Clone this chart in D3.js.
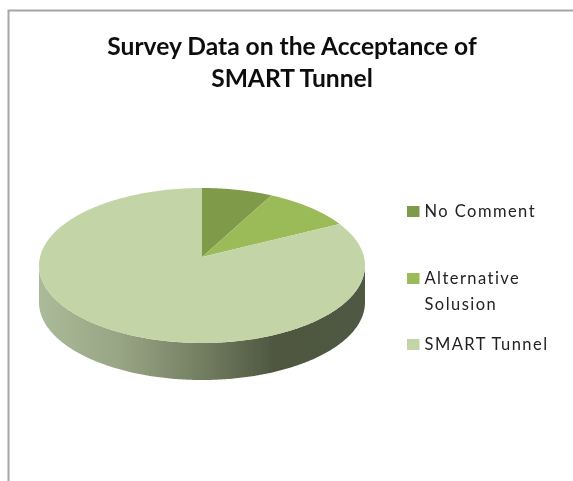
<!DOCTYPE html>
<html>
<head>
<meta charset="utf-8">
<script src="https://cdn.jsdelivr.net/npm/d3@7"></script>
<style>
  html, body { margin: 0; padding: 0; background: #fff; }
  svg { display: block; }
</style>
</head>
<body>
<div id="chart"></div>
<script>
// valores (%)
const categories = ['No Comment', 'Alternative Solusion', 'SMART Tunnel'];
const values = [7, 9, 84];
const colors = ['#7f9a4a', '#9bbb59', '#c3d5a6'];
const legendLines = [['No Comment'], ['Alternative', 'Solusion'], ['SMART Tunnel']];
const titleLines = ['Survey Data on the Acceptance of', 'SMART Tunnel'];

const width = 573, height = 481;
const cx = 202, cy = 265.5, rx = 163, ry = 77.5, depth = 37;
const apex = [202, 257]; // la perspectiva corre el vertice hacia arriba

const svg = d3.select('#chart').append('svg')
  .attr('width', width)
  .attr('height', height);

const defs = svg.append('defs');
defs.append('filter').attr('id', 'soft')
  .attr('x', '-5%').attr('y', '-5%').attr('width', '110%').attr('height', '110%')
  .append('feGaussianBlur').attr('stdDeviation', 0.6);
defs.append('filter').attr('id', 'softText')
  .attr('x', '-5%').attr('y', '-5%').attr('width', '110%').attr('height', '110%')
  .append('feGaussianBlur').attr('stdDeviation', 0.4);

const grad = defs.append('linearGradient').attr('id', 'side')
  .attr('gradientUnits', 'userSpaceOnUse')
  .attr('x1', cx - rx).attr('x2', cx + rx).attr('y1', 0).attr('y2', 0);
grad.append('stop').attr('offset', '0%').attr('stop-color', '#abba98');
grad.append('stop').attr('offset', '25%').attr('stop-color', '#98a584');
grad.append('stop').attr('offset', '50%').attr('stop-color', '#737e61');
grad.append('stop').attr('offset', '72%').attr('stop-color', '#4f5741');
grad.append('stop').attr('offset', '100%').attr('stop-color', '#505842');

// marco del grafico
svg.append('path')
  .attr('d', `M8.5,${height} V10.5 H${width}`)
  .attr('fill', 'none')
  .attr('stroke', '#a6a6a6')
  .attr('stroke-width', 2);

const plot = svg.append('g').attr('filter', 'url(#soft)');

const pie = d3.pie().sort(null)(values);
const onEllipse = a => [cx + rx * Math.sin(a), cy - ry * Math.cos(a)];
const angles = d3.range(0, 241).map(i => i / 240);
const line = d3.line();

// costado del disco
const rim = angles.map(t => onEllipse(Math.PI / 2 + t * Math.PI));
plot.append('path')
  .attr('d', line(rim.concat(rim.slice().reverse().map(p => [p[0], p[1] + depth]))) + 'Z')
  .attr('fill', 'url(#side)');

// porciones
plot.selectAll('path.slice')
  .data(pie)
  .enter().append('path')
  .attr('class', 'slice')
  .attr('d', d => {
    const pts = angles.map(t => onEllipse(d.startAngle + t * (d.endAngle - d.startAngle)));
    return line([apex].concat(pts)) + 'Z';
  })
  .attr('fill', (d, i) => colors[i]);

// titulo
svg.append('g').attr('filter', 'url(#softText)').selectAll('text')
  .data(titleLines)
  .enter().append('text')
  .attr('x', 292)
  .attr('y', (d, i) => 55 + i * 32)
  .attr('text-anchor', 'middle')
  .attr('font-family', 'Lato, sans-serif')
  .attr('font-size', 24.6)
  .attr('font-weight', 700)
  .attr('fill', '#111')
  .text(d => d);

// leyenda
const legendY = [206, 273, 339];
const legend = svg.append('g').selectAll('g')
  .data(categories)
  .enter().append('g')
  .attr('transform', (d, i) => `translate(407,${legendY[i]})`);

legend.append('rect')
  .attr('width', 12.5)
  .attr('height', 11)
  .attr('fill', (d, i) => colors[i]);

legend.selectAll('text')
  .data((d, i) => legendLines[i])
  .enter().append('text')
  .attr('x', 17.5)
  .attr('y', (d, i) => 11 + i * 26)
  .attr('font-family', 'Lato, sans-serif')
  .attr('font-size', 16.5)
  .attr('letter-spacing', 1.45)
  .attr('fill', '#222')
  .attr('filter', 'url(#softText)')
  .text(d => d);
</script>
</body>
</html>
